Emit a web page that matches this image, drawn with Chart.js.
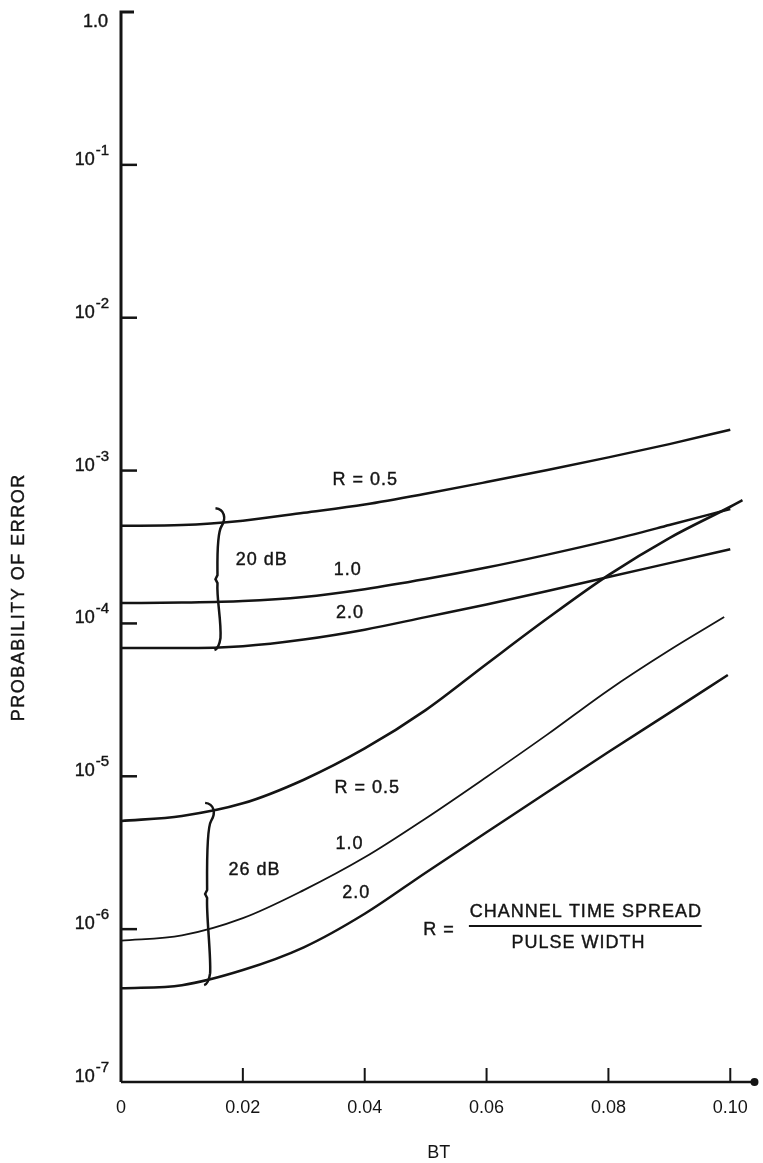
<!DOCTYPE html>
<html>
<head>
<meta charset="utf-8">
<script src="https://cdn.jsdelivr.net/npm/chart.js@4.4.1/dist/chart.umd.min.js"></script>
<style>
  html, body { margin: 0; padding: 0; background: #fff; }
  canvas { display: block; }
</style>
</head>
<body>
<canvas id="errorChart" width="763" height="1163"></canvas>
<script>
// BT values for each curve (the 26 dB curves stop at slightly different points)
const bt = [0, 0.01, 0.02, 0.03, 0.04, 0.05, 0.06, 0.07, 0.08, 0.09, 0.10];
const bt26R05 = [0, 0.01, 0.02, 0.03, 0.04, 0.05, 0.06, 0.07, 0.08, 0.09, 0.10, 0.102];
const bt26R10 = [0, 0.01, 0.02, 0.03, 0.04, 0.05, 0.06, 0.07, 0.08, 0.09, 0.099];
const bt26R20 = [0, 0.01, 0.02, 0.03, 0.04, 0.05, 0.06, 0.07, 0.08, 0.09, 0.0996];

// probability of error, 20 dB group
const pe20R05 = [4.35e-4, 4.4e-4, 4.7e-4, 5.3e-4, 6.0e-4, 7.05e-4, 8.41e-4, 1.01e-3, 1.22e-3, 1.49e-3, 1.85e-3];
const pe20R10 = [1.36e-4, 1.37e-4, 1.4e-4, 1.49e-4, 1.675e-4, 1.95e-4, 2.32e-4, 2.82e-4, 3.48e-4, 4.4e-4, 5.6e-4];
const pe20R20 = [6.9e-5, 6.9e-5, 7.1e-5, 7.85e-5, 9.1e-5, 1.1e-4, 1.33e-4, 1.63e-4, 2.01e-4, 2.48e-4, 3.06e-4];

// probability of error, 26 dB group
const pe26R05 = [5.1e-6, 5.5e-6, 6.65e-6, 9.5e-6, 1.52e-5, 2.71e-5, 5.43e-5, 1.08e-4, 2.07e-4, 3.62e-4, 5.8e-4, 6.4e-4];
const pe26R10 = [8.4e-7, 9.1e-7, 1.18e-6, 1.8e-6, 2.95e-6, 5.3e-6, 9.9e-6, 1.88e-5, 3.66e-5, 6.67e-5, 1.1e-4];
const pe26R20 = [4.1e-7, 4.3e-7, 5.4e-7, 7.6e-7, 1.26e-6, 2.34e-6, 4.3e-6, 7.9e-6, 1.44e-5, 2.6e-5, 4.6e-5];

// axis ticks
const xTicks = [0, 0.02, 0.04, 0.06, 0.08, 0.10];
const xTickLabels = ['0', '0.02', '0.04', '0.06', '0.08', '0.10'];
const yTickExps = [0, -1, -2, -3, -4, -5, -6, -7];

// text notes on the plot, placed in data units
const notes = [
  { text: 'R = 0.5', bt: 0.0401, pe: 8.65e-4 },
  { text: '1.0', bt: 0.0372, pe: 2.23e-4 },
  { text: '2.0', bt: 0.0376, pe: 1.17e-4 },
  { text: '20 dB', bt: 0.0231, pe: 2.6e-4 },
  { text: 'R = 0.5', bt: 0.0404, pe: 8.4e-6 },
  { text: '1.0', bt: 0.0375, pe: 3.6e-6 },
  { text: '2.0', bt: 0.0386, pe: 1.72e-6 },
  { text: '26 dB', bt: 0.0219, pe: 2.44e-6 },
  { text: 'R =', bt: 0.0522, pe: 9.9e-7 },
  { text: 'CHANNEL TIME SPREAD', bt: 0.0763, pe: 1.3e-6 },
  { text: 'PULSE WIDTH', bt: 0.0751, pe: 8.1e-7 }
];
const braces = [
  { bt: 0.0160, top: 5.67e-4, bottom: 6.7e-5 },
  { bt: 0.0143, top: 6.7e-6, bottom: 4.3e-7 }
];
const fractionBar = { from: 0.0571, to: 0.0953, pe: 1.05e-6 };

const ink = '#141414';
const family = '"Liberation Sans", Arial, Helvetica, sans-serif';

function toPoints(xs, ys) {
  return xs.map((x, i) => ({ x: x, y: ys[i] }));
}

function curve(xs, ys, width) {
  return {
    data: toPoints(xs, ys),
    borderColor: ink,
    borderWidth: width,
    pointRadius: 0,
    fill: false,
    cubicInterpolationMode: 'monotone'
  };
}

// scanned print looks a bit heavy, so fill and lightly stroke the text
function inkText(ctx, text, x, y) {
  ctx.fillText(text, x, y);
  ctx.strokeText(text, x, y);
}

function drawBrace(ctx, x, y0, y1) {
  const m = (y0 + y1) / 2;
  ctx.beginPath();
  ctx.moveTo(x - 3, y0);
  ctx.bezierCurveTo(x + 6, y0 + 1, x + 8, y0 + 10, x + 3, y0 + 18);
  ctx.bezierCurveTo(x - 2, y0 + 26, x - 1, m - 14, x - 1, m - 4);
  ctx.lineTo(x - 3, m);
  ctx.lineTo(x - 1, m + 4);
  ctx.bezierCurveTo(x - 2, m + 20, x + 3, y1 - 30, x + 2, y1 - 12);
  ctx.bezierCurveTo(x + 1, y1 - 5, x - 1, y1 - 1, x - 4, y1);
  ctx.stroke();
}

const paperPlugin = {
  id: 'paper',
  afterDraw(chart) {
    const ctx = chart.ctx;
    const xs = chart.scales.x;
    const ys = chart.scales.y;
    const area = chart.chartArea;
    ctx.save();
    ctx.strokeStyle = ink;
    ctx.fillStyle = ink;
    ctx.lineCap = 'butt';

    // axes
    ctx.lineWidth = 3;
    ctx.beginPath();
    ctx.moveTo(area.left + 13, area.top);
    ctx.lineTo(area.left, area.top);
    ctx.lineTo(area.left, area.bottom);
    ctx.stroke();
    ctx.lineWidth = 2.5;
    ctx.beginPath();
    ctx.moveTo(area.left, area.bottom);
    ctx.lineTo(area.right - 2, area.bottom);
    ctx.stroke();
    ctx.beginPath();
    ctx.arc(area.right - 2, area.bottom, 4, 0, Math.PI * 2);
    ctx.fill();

    // inward ticks
    ctx.lineWidth = 2.5;
    yTickExps.forEach(e => {
      if (e === 0 || e === -7) return;
      const y = ys.getPixelForValue(Math.pow(10, e));
      ctx.beginPath();
      ctx.moveTo(area.left, y);
      ctx.lineTo(area.left + 16, y);
      ctx.stroke();
    });
    ctx.lineWidth = 2;
    xTicks.forEach(v => {
      if (v === 0) return;
      const x = xs.getPixelForValue(v);
      ctx.beginPath();
      ctx.moveTo(x, area.bottom);
      ctx.lineTo(x, area.bottom - 14);
      ctx.stroke();
    });

    ctx.lineWidth = 0.4;

    // y tick labels with raised exponents
    ctx.textBaseline = 'alphabetic';
    ctx.textAlign = 'right';
    yTickExps.forEach(e => {
      const y = ys.getPixelForValue(Math.pow(10, e));
      if (e === 0) {
        ctx.font = '18px ' + family;
        inkText(ctx, '1.0', 108, y + 15);
        return;
      }
      ctx.font = '15px ' + family;
      const sup = String(e);
      const w = ctx.measureText(sup).width;
      inkText(ctx, sup, 109, y - 10);
      ctx.font = '18px ' + family;
      inkText(ctx, '10', 108 - w, y);
    });

    // y axis title
    ctx.save();
    ctx.translate(19, area.top + (area.bottom - area.top) * 0.547);
    ctx.rotate(-Math.PI / 2);
    ctx.textAlign = 'center';
    ctx.textBaseline = 'middle';
    ctx.font = '18px ' + family;
    ctx.letterSpacing = '1.5px';
    inkText(ctx, 'PROBABILITY OF ERROR', 0, 0);
    ctx.restore();

    // notes
    ctx.textAlign = 'center';
    ctx.textBaseline = 'middle';
    ctx.font = '18px ' + family;
    ctx.letterSpacing = '1px';
    notes.forEach(n => {
      inkText(ctx, n.text, xs.getPixelForValue(n.bt), ys.getPixelForValue(n.pe));
    });
    ctx.letterSpacing = '0px';

    // fraction bar
    ctx.lineWidth = 2;
    const fy = ys.getPixelForValue(fractionBar.pe);
    ctx.beginPath();
    ctx.moveTo(xs.getPixelForValue(fractionBar.from), fy);
    ctx.lineTo(xs.getPixelForValue(fractionBar.to), fy);
    ctx.stroke();

    // braces
    ctx.lineWidth = 2.5;
    braces.forEach(b => {
      drawBrace(ctx, xs.getPixelForValue(b.bt), ys.getPixelForValue(b.top), ys.getPixelForValue(b.bottom));
    });

    ctx.restore();
  }
};

const ctx = document.getElementById('errorChart').getContext('2d');
const errorChart = new Chart(ctx, {
  type: 'line',
  data: {
    datasets: [
      curve(bt, pe20R05, 2.5),
      curve(bt, pe20R10, 2.5),
      curve(bt, pe20R20, 2.5),
      curve(bt26R05, pe26R05, 2.6),
      curve(bt26R10, pe26R10, 1.8),
      curve(bt26R20, pe26R20, 2.5)
    ]
  },
  options: {
    responsive: false,
    animation: false,
    layout: { padding: { left: 121, top: 12, right: 5, bottom: 0 } },
    plugins: {
      legend: { display: false },
      tooltip: { enabled: false }
    },
    scales: {
      x: {
        type: 'linear',
        min: 0,
        max: 0.1043,
        afterBuildTicks: (s) => { s.ticks = xTicks.map(v => ({ value: v })); },
        afterFit: (s) => { s.height = 81; },
        grid: { display: false, drawTicks: false },
        border: { display: false },
        ticks: {
          padding: 15,
          color: ink,
          maxRotation: 0,
          autoSkip: false,
          font: { size: 18, family: family },
          callback: (v, i) => xTickLabels[i]
        },
        title: {
          display: true,
          text: 'BT',
          color: ink,
          font: { size: 18, family: family, lineHeight: 1 },
          padding: { top: 0, bottom: 1 }
        }
      },
      y: {
        type: 'logarithmic',
        min: 1e-7,
        max: 1,
        display: false
      }
    }
  },
  plugins: [paperPlugin]
});
</script>
</body>
</html>
